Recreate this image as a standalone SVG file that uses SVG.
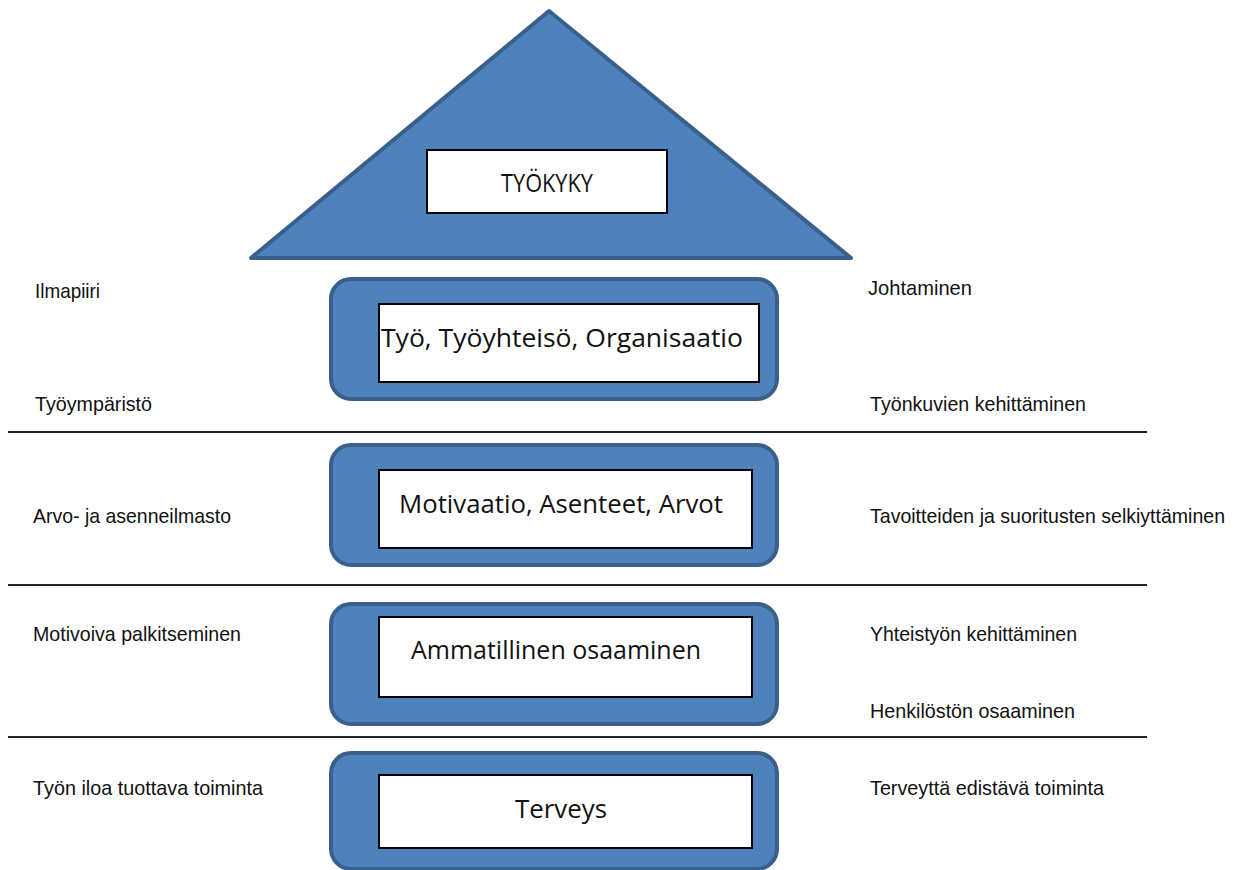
<svg xmlns="http://www.w3.org/2000/svg" width="1244" height="870" viewBox="0 0 1244 870">
<style>
.tier{fill:#4f81bd;stroke:#3a5f8b;stroke-width:4}
.inner{fill:#ffffff;stroke:#000000;stroke-width:2}
.box{font-family:"Open Sans","Liberation Sans",sans-serif;font-size:26px;fill:#111;text-anchor:middle}
.lbl{font-family:"Liberation Sans",Arial,sans-serif;font-size:21px;fill:#111}
.sep{stroke:#222;stroke-width:2}
</style>
<rect width="1244" height="870" fill="#ffffff"/>
<g id="roof">
<polygon class="tier" points="549,11 851,258 251,258" stroke-linejoin="round"/>
<rect class="inner" x="427" y="150" width="240" height="63"/>
<text class="box" x="547" y="192" font-size="23" textLength="92" lengthAdjust="spacingAndGlyphs">TYÖKYKY</text>
</g>
<g id="tier1">
<rect class="tier" x="331" y="279" width="446" height="120" rx="20"/>
<rect class="inner" x="379" y="304" width="380" height="78"/>
<text class="box" x="562" y="347" textLength="362" lengthAdjust="spacingAndGlyphs">Työ, Työyhteisö, Organisaatio</text>
</g>
<g id="tier2">
<rect class="tier" x="331" y="445" width="446" height="120" rx="20"/>
<rect class="inner" x="379" y="470" width="373" height="78"/>
<text class="box" x="561" y="513" textLength="324" lengthAdjust="spacingAndGlyphs">Motivaatio, Asenteet, Arvot</text>
</g>
<g id="tier3">
<rect class="tier" x="331" y="604" width="446" height="120" rx="20"/>
<rect class="inner" x="379" y="617" width="373" height="80"/>
<text class="box" x="556" y="659" textLength="290" lengthAdjust="spacingAndGlyphs">Ammatillinen osaaminen</text>
</g>
<g id="tier4">
<rect class="tier" x="331" y="753" width="446" height="116" rx="20"/>
<rect class="inner" x="379" y="775" width="373" height="73"/>
<text class="box" x="561" y="818" textLength="92" lengthAdjust="spacingAndGlyphs">Terveys</text>
</g>
<g id="connectors">
<line class="sep" x1="8" y1="432" x2="1147" y2="432"/>
<line class="sep" x1="8" y1="585" x2="1147" y2="585"/>
<line class="sep" x1="8" y1="737" x2="1147" y2="737"/>
</g>
<g id="labels-left">
<text class="lbl" x="35" y="298" textLength="65" lengthAdjust="spacingAndGlyphs">Ilmapiiri</text>
<text class="lbl" x="35" y="411" textLength="117" lengthAdjust="spacingAndGlyphs">Työympäristö</text>
<text class="lbl" x="33" y="523" textLength="198" lengthAdjust="spacingAndGlyphs">Arvo- ja asenneilmasto</text>
<text class="lbl" x="33" y="641" textLength="208" lengthAdjust="spacingAndGlyphs">Motivoiva palkitseminen</text>
<text class="lbl" x="33" y="795" textLength="230" lengthAdjust="spacingAndGlyphs">Työn iloa tuottava toiminta</text>
</g>
<g id="labels-right">
<text class="lbl" x="868" y="295" textLength="104" lengthAdjust="spacingAndGlyphs">Johtaminen</text>
<text class="lbl" x="870" y="411" textLength="216" lengthAdjust="spacingAndGlyphs">Työnkuvien kehittäminen</text>
<text class="lbl" x="870" y="523" font-size="19" textLength="355" lengthAdjust="spacingAndGlyphs">Tavoitteiden ja suoritusten selkiyttäminen</text>
<text class="lbl" x="870" y="641" textLength="207" lengthAdjust="spacingAndGlyphs">Yhteistyön kehittäminen</text>
<text class="lbl" x="870" y="718" textLength="205" lengthAdjust="spacingAndGlyphs">Henkilöstön osaaminen</text>
<text class="lbl" x="870" y="795" textLength="234" lengthAdjust="spacingAndGlyphs">Terveyttä edistävä toiminta</text>
</g>
</svg>
